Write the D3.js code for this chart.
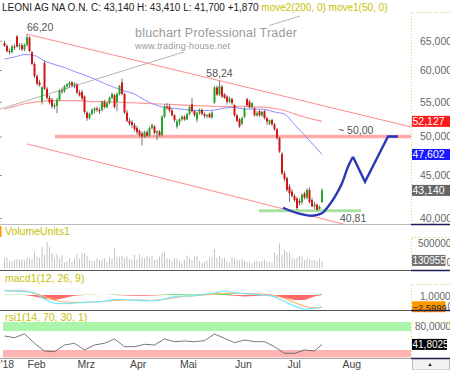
<!DOCTYPE html>
<html>
<head>
<meta charset="utf-8">
<script src="https://cdn.jsdelivr.net/npm/d3@7/dist/d3.min.js"></script>
<style>
  body { margin: 0; background: #fff; }
  svg { display: block; font-family: "Liberation Sans", Arial, sans-serif; }
</style>
</head>
<body>
<div id="chart"></div>
<script>
// trading day index, 0 = 1 Feb 2018; first candle is index -9
var firstIndex = -9;

// daily candles [open, high, low, close] in EUR
var candles = [
  [64.6, 65.0, 63.9, 64.1], [64.1, 64.4, 62.9, 63.2], [63.2, 63.6, 62.6, 63.0], [63.0, 64.3, 62.8, 64.0],
  [64.0, 64.4, 63.4, 63.8], [65.8, 66.0, 63.8, 64.0], [64.0, 64.6, 63.4, 64.2], [64.2, 64.6, 63.2, 63.5],
  [63.5, 64.5, 63.2, 64.3], [64.3, 66.2, 64.0, 65.6], [65.6, 65.8, 63.0, 63.2], [63.0, 63.2, 60.8, 61.0],
  [61.0, 61.3, 58.7, 59.0], [59.0, 59.3, 57.5, 57.8], [58.0, 58.4, 57.3, 57.6], [55.0, 57.4, 54.6, 57.2],
  [61.2, 61.6, 56.8, 57.0], [57.0, 57.3, 55.3, 55.6], [55.6, 56.0, 54.6, 54.9], [55.3, 55.6, 54.0, 54.3],
  [54.3, 54.8, 53.9, 54.5], [54.4, 55.6, 53.3, 55.3], [55.3, 56.9, 55.1, 56.7], [56.7, 57.2, 56.2, 56.6],
  [56.6, 57.6, 56.4, 57.4], [57.4, 57.9, 57.0, 57.7], [57.6, 58.2, 57.2, 58.0], [58.0, 58.2, 57.3, 57.5],
  [57.5, 58.0, 57.1, 57.8], [57.6, 57.9, 56.2, 56.4], [56.4, 56.8, 55.8, 56.0], [56.5, 56.8, 55.2, 55.5],
  [55.8, 56.0, 53.2, 53.5], [53.4, 53.6, 52.2, 52.6], [52.6, 53.4, 52.4, 53.2], [53.2, 54.0, 53.0, 53.8],
  [53.7, 54.2, 53.3, 54.0], [54.0, 54.3, 53.5, 53.8], [53.8, 54.1, 53.2, 53.6], [53.8, 55.2, 53.6, 55.0],
  [55.0, 55.3, 54.0, 54.2], [54.2, 55.0, 54.0, 54.8], [54.8, 55.8, 54.6, 55.6], [55.6, 56.4, 55.4, 56.2],
  [56.0, 56.2, 54.0, 54.2], [55.0, 56.4, 53.6, 56.2], [56.2, 57.6, 56.0, 57.4], [58.0, 58.6, 56.0, 56.2],
  [56.2, 56.4, 53.2, 53.4], [53.4, 53.8, 52.0, 52.2], [52.2, 52.6, 51.5, 51.8], [52.0, 52.3, 51.2, 51.6],
  [51.6, 51.9, 50.7, 51.0], [51.2, 51.5, 50.3, 50.6], [50.8, 51.0, 49.9, 50.2], [50.4, 50.7, 48.8, 50.0],
  [50.0, 50.8, 49.8, 50.6], [50.6, 50.9, 49.9, 50.1], [50.2, 51.4, 50.0, 51.2], [51.2, 51.8, 51.0, 51.6],
  [51.4, 51.6, 50.3, 50.5], [50.5, 50.9, 49.5, 50.7], [50.7, 50.9, 50.0, 50.2], [50.2, 53.0, 50.0, 52.8],
  [52.8, 54.6, 52.6, 54.3], [54.3, 54.8, 53.8, 54.1], [54.3, 54.6, 53.4, 53.7], [53.7, 54.0, 52.8, 53.0],
  [53.0, 53.2, 52.0, 52.3], [51.4, 52.4, 51.1, 52.1], [52.0, 52.6, 51.6, 52.4], [52.4, 53.0, 52.2, 52.8],
  [52.8, 53.0, 52.2, 52.4], [52.4, 53.3, 52.3, 53.2], [53.2, 54.4, 53.0, 54.2], [54.6, 55.6, 53.4, 53.6],
  [53.6, 53.8, 52.8, 53.0], [52.4, 53.5, 52.0, 53.3], [53.3, 54.0, 53.1, 53.8], [53.8, 54.0, 53.0, 53.2],
  [53.2, 53.4, 52.6, 52.9], [52.9, 53.2, 52.6, 53.0], [53.2, 53.4, 52.6, 52.7], [52.7, 53.6, 52.5, 53.4],
  [54.9, 57.4, 54.7, 57.2], [57.2, 57.5, 55.9, 56.1], [56.1, 58.24, 55.9, 57.4], [57.3, 57.6, 55.6, 55.8],
  [56.1, 56.3, 55.4, 55.6], [55.8, 56.0, 54.6, 55.0], [55.0, 55.8, 54.8, 55.5], [55.4, 55.6, 54.5, 54.8],
  [54.5, 54.7, 52.8, 53.0], [53.0, 53.2, 52.0, 52.2], [52.4, 52.6, 51.2, 51.4], [51.8, 52.8, 51.6, 52.6],
  [52.8, 54.2, 52.6, 54.0], [55.4, 55.6, 54.2, 54.5], [55.0, 55.3, 54.0, 54.2], [54.2, 54.9, 54.0, 54.8],
  [54.0, 54.2, 52.8, 53.0], [53.0, 53.6, 52.8, 53.3], [53.6, 53.8, 52.8, 53.0], [53.0, 53.6, 52.8, 53.5],
  [53.6, 53.8, 52.4, 52.6], [52.6, 52.8, 51.6, 52.1], [51.8, 52.4, 51.6, 52.3], [52.3, 52.5, 51.5, 51.7],
  [51.7, 51.9, 50.8, 51.0], [51.0, 51.2, 49.6, 49.8], [49.8, 50.0, 47.8, 48.0], [47.7, 47.9, 45.0, 45.2],
  [45.2, 45.5, 44.2, 44.5], [44.6, 44.8, 43.0, 43.2], [43.6, 43.9, 41.8, 42.8], [43.0, 43.3, 42.3, 42.5],
  [42.5, 42.7, 41.8, 42.0], [42.2, 42.4, 40.9, 41.1], [41.9, 42.2, 41.4, 41.7], [41.8, 42.8, 41.5, 42.6],
  [42.8, 43.0, 42.1, 42.3], [42.3, 43.4, 42.1, 43.2], [43.2, 43.5, 41.6, 41.8], [42.0, 42.3, 41.2, 41.3],
  [41.3, 41.8, 41.0, 41.5], [41.5, 41.6, 40.81, 40.9], [41.0, 41.4, 40.9, 41.27], [41.8, 43.41, 41.7, 43.14]
];

// daily volume, thousands of shares
var volumeK = [
  193, 214, 140, 126, 160, 180, 160, 173, 146, 207, 193, 193, 327, 227, 207, 427,
  261, 527, 427, 294, 193, 273, 193, 261, 113, 140, 193, 126, 193, 273, 193, 307,
  294, 247, 160, 140, 140, 193, 160, 173, 193, 126, 214, 193, 394, 227, 227, 240,
  193, 227, 180, 160, 261, 173, 273, 214, 193, 227, 207, 247, 160, 173, 227, 294,
  327, 193, 173, 140, 193, 193, 140, 93, 160, 247, 193, 160, 227, 240, 140, 107,
  126, 146, 193, 214, 380, 207, 240, 193, 207, 126, 107, 214, 193, 173, 160, 180,
  140, 126, 107, 93, 126, 146, 126, 146, 160, 126, 126, 107, 314, 261, 493, 261,
  360, 314, 307, 214, 180, 214, 240, 227, 160, 193, 173, 160, 160, 146, 193, 131
];

// indicator lines read every 4 trading days
var sampleIndex = [-9, -5, -1, 3, 7, 11, 15, 19, 23, 27, 31, 35, 39, 43, 47, 51, 55,
  59, 63, 67, 71, 75, 79, 83, 87, 91, 95, 99, 103, 107, 111, 115, 118];
var move1 = [61.84, 62.18, 62.6, 62.43, 61.5, 60.91, 60.41, 59.75, 59.18, 58.54, 57.82,
  57.19, 56.65, 56.18, 55.27, 54.59, 54.14, 54.0, 53.85, 53.7, 53.7, 53.77, 54.06, 54.14,
  53.92, 53.92, 53.85, 53.48, 53.19, 51.68, 50.21, 48.72, 47.602];
var move2 = [53.9, 54.3, 54.7, 54.95, 55.1, 55.16, 55.16, 55.16, 55.1, 55.03, 55.0,
  54.95, 54.9, 54.85, 54.77, 54.7, 54.63, 54.56, 54.5, 54.43, 54.38, 54.32, 54.26, 54.27,
  54.3, 54.25, 54.2, 54.0, 53.7, 53.2, 52.75, 52.37, 52.127];
var macdLine = [3.16, 3.05, 2.87, 2.22, 0.17, -1.34, -1.52, -1.27, -1.01, -0.91, -0.65,
  0.03, -0.01, -0.26, -0.47, -0.44, 0.17, 1.04, 1.25, 1.40, 1.79, 2.33, 3.05, 2.40,
  2.08, 1.83, 1.61, 0.96, -0.73, -2.35, -3.42, -3.24, -2.5999];
var signalLine = [3.27, 3.19, 3.05, 2.33, 1.07, -0.26, -0.91, -1.05, -1.01, -0.91, -0.65,
  -0.37, -0.19, -0.19, -0.26, -0.29, 0.10, 0.60, 1.14, 1.40, 1.65, 1.90, 2.19, 2.22,
  2.19, 2.04, 1.86, 1.43, 0.35, -1.09, -2.42, -2.99, -2.81];
var macdHist = [0.1, 0.15, 0.1, -0.6, -1.4, -2.0, -1.2, -0.3, 0.1, 0.1, 0.05, 0.2, -0.2,
  -0.3, -0.3, -0.2, 0.2, 0.4, 0.3, 0.2, 0.5, 0.6, 0.8, -0.3, -0.6, -0.4, -0.2, -0.5,
  -1.2, -2.0, -2.0, -0.6, 0.4];
var rsiValues = [59.5, 55.9, 64, 44.1, 27.9, 26.4, 40.5, 44.1, 30, 40.5, 44.1, 53.2, 37,
  37, 42, 40.5, 53.2, 47.5, 48.9, 47.5, 49.6, 63.7, 54.6, 45.4, 51, 47.5, 47.5, 37, 23,
  23, 30, 27.9, 41.8025];

// drawn annotations: [index, price]
var upperChannel = [[0, 66.2], [154, 51.3]];
var lowerChannel = [[0, 49.0], [128, 39.24]];
var greyTrend = [[-10.8, 53.92], [109.2, 69.57]];
var resistance = [[11.2, 50.0], [153.6, 50.0]];
var support = [[92.8, 40.81], [133.6, 40.81]];
var projCurve = [[102.4, 41.14], [108.4, 40.52], [114, 40.25], [118, 40.52], [120.4, 41.26],
  [123.2, 42.41], [126, 43.99], [128.4, 46.04], [130.4, 47.31]];
var projZigzag = [[130.4, 47.31], [135.2, 44.18], [144.4, 50.0], [148.4, 50.0]];

// axes
var monthIndex = [-10.8, 0, 20, 41, 61, 83, 104, 126];
var monthLabels = ["'18", "Feb", "Mrz", "Apr", "Mai", "Jun", "Jul", "Aug"];
var priceTicks = [40, 45, 50, 55, 60, 65];

var svgWidth = 450, svgHeight = 370;
var plotRight = 411;
var font = "Liberation Sans, Arial, sans-serif";

var svg = d3.select("#chart")
    .append("svg")
    .attr("width", svgWidth)
    .attr("height", svgHeight);

// scales
var x = d3.scaleLinear().domain([-10.8, 153.6]).range([0, plotRight]);
var yPrice = d3.scaleLog().domain([40, 65]).range([218, 40.8]);
var yVol = d3.scaleLinear().domain([0, 500]).range([268, 243]);
var yMacd = d3.scaleLinear().domain([-3.78, 7.0]).range([310, 280]);
var yHist = d3.scaleLinear().domain([-2, 2]).range([300, 290]);
var yRsi = d3.scaleLinear().domain([0, 100]).range([364.25, 316.75]);

function comma(f) {
    return function (d) { return d3.format(f)(d).replace(".", ","); };
}
function pt(d) { return [x(d[0]), yPrice(d[1])]; }

// clip regions for the panels
var defs = svg.append("defs");
function clip(id, y0, y1) {
    defs.append("clipPath").attr("id", id)
        .append("rect").attr("x", 0).attr("y", y0).attr("width", plotRight).attr("height", y1 - y0);
}
clip("clipMain", 14, 224);
clip("clipMacd", 272, 310);
clip("clipRsi", 322, 357.5);

// header
var head = svg.append("text")
    .attr("x", 2).attr("y", 11)
    .attr("font-family", font).attr("font-size", 10);
head.append("tspan").attr("fill", "#222")
    .text("LEONI AG NA O.N. C: 43,140 H: 43,410 L: 41,700 +1,870 ");
head.append("tspan").attr("fill", "#c8c000")
    .text("move2(200, 0) move1(50, 0)");

// ---------- main price panel ----------
var main = svg.append("g").attr("clip-path", "url(#clipMain)");

// grey trend line, partly hidden by the watermark
main.append("path")
    .attr("d", d3.line()(greyTrend.map(pt)))
    .attr("stroke", "#b4b4b4").attr("stroke-width", 1).attr("fill", "none");

// watermark
var wm = svg.append("g");
wm.append("rect").attr("x", 132).attr("y", 22).attr("width", 137).attr("height", 30).attr("fill", "#fff");
wm.append("text").attr("x", 135).attr("y", 37)
    .attr("font-family", font).attr("font-size", 12.5).attr("fill", "#9a9a9a")
    .attr("textLength", 162).attr("lengthAdjust", "spacing")
    .text("bluchart Professional Trader");
wm.append("text").attr("x", 135).attr("y", 49)
    .attr("font-family", font).attr("font-size", 9).attr("fill", "#9a9a9a")
    .attr("textLength", 95).attr("lengthAdjust", "spacing")
    .text("www.trading-house.net");

// channel lines
[upperChannel, lowerChannel].forEach(function (seg) {
    main.append("path")
        .attr("d", d3.line()(seg.map(pt)))
        .attr("stroke", "#ff8c8c").attr("stroke-width", 1).attr("fill", "none");
});

// 50 euro resistance band
main.append("path")
    .attr("d", d3.line()(resistance.map(pt)))
    .attr("stroke", "#ffa8a8").attr("stroke-width", 3.5).attr("fill", "none");

// support line
main.append("path")
    .attr("d", d3.line()(support.map(pt)))
    .attr("stroke", "#a8e2a0").attr("stroke-width", 3).attr("fill", "none");

// moving averages
var maLine = d3.line()
    .x(function (d) { return x(d[0]); })
    .y(function (d) { return yPrice(d[1]); })
    .curve(d3.curveMonotoneX);
main.append("path")
    .attr("d", maLine(sampleIndex.map(function (i, k) { return [i, move2[k]]; })))
    .attr("stroke", "#ff9a9a").attr("stroke-width", 1.2).attr("fill", "none");
main.append("path")
    .attr("d", maLine(sampleIndex.map(function (i, k) { return [i, move1[k]]; })))
    .attr("stroke", "#8c8cff").attr("stroke-width", 1).attr("fill", "none");

// candles
var candleData = candles.map(function (c, k) {
    return { i: firstIndex + k, o: c[0], h: c[1], l: c[2], c: c[3] };
});
var up = "#22a822", down = "#d41414";

main.selectAll(".wick")
    .data(candleData)
    .enter()
    .append("line")
    .attr("x1", function (d) { return x(d.i); })
    .attr("x2", function (d) { return x(d.i); })
    .attr("y1", function (d) { return yPrice(d.h); })
    .attr("y2", function (d) { return yPrice(d.l); })
    .attr("stroke", "#666").attr("stroke-width", 0.9);

main.selectAll(".body")
    .data(candleData)
    .enter()
    .append("rect")
    .attr("x", function (d) { return x(d.i) - 1; })
    .attr("width", 2)
    .attr("y", function (d) { return yPrice(Math.max(d.o, d.c)); })
    .attr("height", function (d) { return Math.max(1, Math.abs(yPrice(d.o) - yPrice(d.c))); })
    .attr("fill", function (d) { return d.c >= d.o ? up : down; });

// projected path
main.append("path")
    .attr("d", d3.line().curve(d3.curveCatmullRom)(projCurve.map(pt)))
    .attr("stroke", "#2a38b8").attr("stroke-width", 2.4).attr("fill", "none");
main.append("path")
    .attr("d", d3.line()(projZigzag.map(pt)))
    .attr("stroke", "#2a38b8").attr("stroke-width", 2.4).attr("fill", "none")
    .attr("stroke-linejoin", "miter");

// price labels on the chart
function note(txt, i, p, dy, anchor) {
    svg.append("text")
        .attr("x", x(i)).attr("y", yPrice(p) + dy)
        .attr("text-anchor", anchor || "start")
        .attr("font-family", font).attr("font-size", 10.5).attr("fill", "#555")
        .text(txt);
}
note("66,20", 0, 66.2, -3);
note("58,24", 77, 58.24, -4, "middle");
note("~ 50,00", 124.4, 50.0, -2.5);
note("40,81", 125.2, 40.81, 11);

// small left ticks
svg.append("g")
    .call(d3.axisRight(yPrice).tickValues(priceTicks).tickSize(2).tickFormat(""))
    .call(function (g) { g.select(".domain").remove(); })
    .selectAll("line").attr("stroke", "#999");

// right price axis
var rAxis = svg.append("g")
    .attr("transform", "translate(" + plotRight + ",0)")
    .call(d3.axisRight(yPrice).tickValues(priceTicks).tickSize(0).tickPadding(9).tickFormat(comma(".3f")))
    .attr("font-family", font).attr("font-size", 10.5);
rAxis.select(".domain").remove();
rAxis.selectAll("text").attr("fill", "#666");

// value tags at the right edge
function tag(yPos, txt, bg, fg, w, fs) {
    svg.append("rect").attr("x", 412).attr("y", yPos - 5.5).attr("width", w || 38).attr("height", 11).attr("fill", bg);
    svg.append("text").attr("x", 412.5).attr("y", yPos + 4)
        .attr("font-family", font).attr("font-size", fs || 10.5).attr("fill", fg).text(txt);
}
function axisText(xPos, yPos, txt) {
    svg.append("text").attr("x", xPos).attr("y", yPos)
        .attr("font-family", font).attr("font-size", 10).attr("fill", "#666").text(txt);
}
tag(yPrice(52.127), "52,127", "#ff1a1a", "#fff");
tag(yPrice(47.602), "47,602", "#1a1aff", "#fff");
tag(yPrice(43.14), "43,140", "#666", "#fff");

// ---------- volume panel ----------
svg.append("rect").attr("x", 0).attr("y", 226).attr("width", 1.5).attr("height", 11).attr("fill", "#ff9900");
svg.append("text").attr("x", 5).attr("y", 235)
    .attr("font-family", font).attr("font-size", 10.5).attr("fill", "#c8c000").text("VolumeUnits1");

svg.selectAll(".vol")
    .data(volumeK)
    .enter()
    .append("rect")
    .attr("x", function (d, k) { return x(firstIndex + k) - 0.5; })
    .attr("width", 1)
    .attr("y", function (d) { return yVol(d); })
    .attr("height", function (d) { return yVol(0) - yVol(d); })
    .attr("fill", "#c4c4c4");

axisText(418, yVol(500) + 3.5, "500000");
axisText(446.5, yVol(0) - 2, "0");
tag(yVol(131) - 1, "130955", "#707070", "#fff", 33.5, 10);

// ---------- macd panel ----------
svg.append("text").attr("x", 5).attr("y", 282)
    .attr("font-family", font).attr("font-size", 10.5).attr("fill", "#c8c000").text("macd1(12, 26, 9)");

var macdG = svg.append("g").attr("clip-path", "url(#clipMacd)");
var histPos = d3.area()
    .x(function (d) { return x(d[0]); })
    .y0(yHist(0))
    .y1(function (d) { return yHist(Math.max(0, d[1])); });
var histNeg = d3.area()
    .x(function (d) { return x(d[0]); })
    .y0(yHist(0))
    .y1(function (d) { return yHist(Math.min(0, d[1])); });
var histData = sampleIndex.map(function (i, k) { return [i, macdHist[k]]; });
macdG.append("path").attr("d", histPos(histData)).attr("fill", "#66e066");
macdG.append("path").attr("d", histNeg(histData)).attr("fill", "#ff6a6a");

var indLine = function (scale) {
    return d3.line()
        .x(function (d) { return x(d[0]); })
        .y(function (d) { return scale(d[1]); })
        .curve(d3.curveMonotoneX);
};
macdG.append("path")
    .attr("d", indLine(yMacd)(sampleIndex.map(function (i, k) { return [i, signalLine[k]]; })))
    .attr("stroke", "#ffb870").attr("stroke-width", 1.2).attr("fill", "none");
macdG.append("path")
    .attr("d", indLine(yMacd)(sampleIndex.map(function (i, k) { return [i, macdLine[k]]; })))
    .attr("stroke", "#70e8ff").attr("stroke-width", 1.2).attr("fill", "none");

axisText(420, yMacd(1) + 3.5, comma(".4f")(1));
axisText(447.5, yMacd(-2.5999) + 3.5, "0");
tag(yMacd(-2.5999), comma(".4f")(-2.5999), "#ff9900", "#222", 33.5, 9.4);

// ---------- rsi panel ----------
svg.append("text").attr("x", 5).attr("y", 321)
    .attr("font-family", font).attr("font-size", 10.5).attr("fill", "#c8c000").text("rsi1(14, 70, 30, 1)");

var rsiG = svg.append("g").attr("clip-path", "url(#clipRsi)");
rsiG.append("rect").attr("x", 3).attr("width", plotRight - 3)
    .attr("y", yRsi(100)).attr("height", yRsi(70) - yRsi(100)).attr("fill", "#aaf5aa");
rsiG.append("rect").attr("x", 3).attr("width", plotRight - 3)
    .attr("y", yRsi(30)).attr("height", yRsi(0) - yRsi(30)).attr("fill", "#ffb4b4");
rsiG.append("path")
    .attr("d", d3.line()
        .x(function (d) { return x(d[0]); })
        .y(function (d) { return yRsi(d[1]); })(sampleIndex.map(function (i, k) { return [i, rsiValues[k]]; })))
    .attr("stroke", "#555").attr("stroke-width", 0.8).attr("fill", "none");

axisText(415, yRsi(80) + 3.5, comma(".4f")(80));
tag(yRsi(41.8025), comma(".4f")(41.8025), "#000", "#fff", 35, 10);

// ---------- frame: separators and dotted axis borders ----------
[[224.5, "#bbb"], [270.5, "#555"], [310.5, "#555"], [358.5, "#aaa"]].forEach(function (s) {
    svg.append("line").attr("x1", 0).attr("x2", plotRight).attr("y1", s[0]).attr("y2", s[0])
        .attr("stroke", s[1]).attr("stroke-width", 1);
    svg.append("line").attr("x1", plotRight).attr("x2", svgWidth).attr("y1", s[0]).attr("y2", s[0])
        .attr("stroke", "#1c1c5a").attr("stroke-width", 1.5);
});
[[12, 224], [237, 270], [284, 310], [322, 358]].forEach(function (b) {
    svg.append("path")
        .attr("d", "M" + (plotRight + 0.5) + "," + b[1] + "V" + (b[0] + 0.5) + "H" + svgWidth)
        .attr("stroke", "#e8c860").attr("stroke-width", 1).attr("stroke-dasharray", "1,2").attr("fill", "none");
});

// time axis
var xAxis = svg.append("g")
    .attr("transform", "translate(0,358)")
    .call(d3.axisBottom(x).tickValues(monthIndex).tickSize(0).tickPadding(3)
        .tickFormat(function (d, k) { return monthLabels[k]; }))
    .attr("font-family", font).attr("font-size", 10.5);
xAxis.select(".domain").remove();
xAxis.selectAll("text").attr("text-anchor", "start").attr("fill", "#444");

// corner button
svg.append("rect").attr("x", 412.5).attr("y", 359.5).attr("width", 37).attr("height", 10.5)
    .attr("fill", "#f2f2f2").attr("stroke", "#bbb");
svg.append("text").attr("x", 430).attr("y", 366).attr("text-anchor", "middle")
    .attr("font-size", 5).attr("fill", "#000").text("▲");
</script>
</body>
</html>
